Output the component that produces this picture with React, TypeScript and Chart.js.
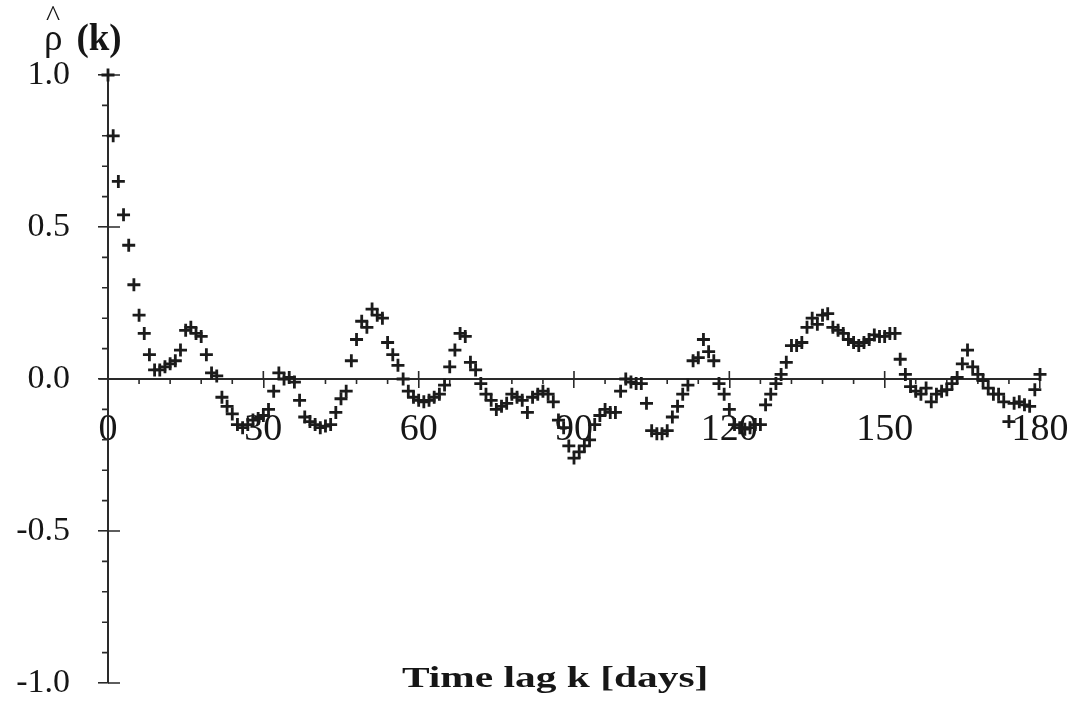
import React, { useEffect, useRef } from "react";
import { Chart, registerables } from "chart.js";

Chart.register(...registerables);

// Estimated autocorrelation values, one per lag k = 0..180
const rho: number[] = [
  1.0, 0.8, 0.65, 0.54, 0.44, 0.31, 0.21, 0.15, 0.08, 0.03,
  0.03, 0.04, 0.05, 0.06, 0.095, 0.16, 0.17, 0.15, 0.14, 0.08,
  0.02, 0.01, -0.06, -0.09, -0.115, -0.15, -0.16, -0.15, -0.135, -0.13,
  -0.12, -0.1, -0.04, 0.02, 0.0, 0.005, -0.01, -0.07, -0.125, -0.14,
  -0.15, -0.16, -0.155, -0.15, -0.11, -0.065, -0.04, 0.06, 0.13, 0.19,
  0.17, 0.23, 0.21, 0.2, 0.12, 0.08, 0.045, 0.0, -0.04, -0.06,
  -0.07, -0.075, -0.07, -0.06, -0.05, -0.02, 0.04, 0.095, 0.15, 0.14,
  0.055, 0.03, -0.015, -0.05, -0.07, -0.1, -0.09, -0.08, -0.05, -0.06,
  -0.07, -0.11, -0.06, -0.05, -0.04, -0.05, -0.075, -0.135, -0.16, -0.22,
  -0.26, -0.24, -0.22, -0.2, -0.15, -0.12, -0.1, -0.11, -0.11, -0.04,
  0.0, -0.01, -0.015, -0.015, -0.08, -0.17, -0.18, -0.18, -0.17, -0.125,
  -0.09, -0.05, -0.02, 0.06, 0.07, 0.13, 0.09, 0.06, -0.015, -0.05,
  -0.1, -0.15, -0.16, -0.165, -0.16, -0.15, -0.15, -0.085, -0.05, -0.015,
  0.015, 0.055, 0.11, 0.11, 0.12, 0.17, 0.2, 0.18, 0.21, 0.215,
  0.17, 0.16, 0.15, 0.13, 0.12, 0.11, 0.12, 0.13, 0.145, 0.14,
  0.14, 0.15, 0.15, 0.065, 0.015, -0.025, -0.04, -0.05, -0.03, -0.075,
  -0.05, -0.04, -0.035, -0.015, 0.005, 0.05, 0.095, 0.04, 0.015, -0.005,
  -0.03, -0.05, -0.05, -0.075, -0.14, -0.08, -0.075, -0.085, -0.09, -0.035,
  0.015,
];

const lags: number[] = rho.map((_, i) => i);

const xTickValues: number[] = [0, 30, 60, 90, 120, 150, 180];
const yTickValues: number[] = [-1.0, -0.5, 0.0, 0.5, 1.0];
const xMinorStep = 6;
const yMinorStep = 0.1;

const xTitle = "Time lag k [days]";
const yTitleSymbol = "ρ";
const yTitleArg = "(k)";

const AXIS_COLOR = "#2a2a2a";
const TEXT_COLOR = "#161616";

const zeroPadding = (s: any) => {
  s.paddingLeft = 0;
  s.paddingRight = 0;
  s.paddingTop = 0;
  s.paddingBottom = 0;
};

const extraTicks = {
  id: "extraTicks",
  beforeDatasetsDraw(chart: any) {
    const { ctx } = chart;
    const xs = chart.scales.x;
    const ys = chart.scales.y;
    const x0 = xs.getPixelForValue(0);
    const y0 = ys.getPixelForValue(0);
    ctx.save();
    ctx.strokeStyle = AXIS_COLOR;
    ctx.lineWidth = 1.6;
    ctx.beginPath();
    const nY = Math.round(2 / yMinorStep);
    for (let i = 0; i <= nY; i++) {
      const v = -1 + i * yMinorStep;
      const py = ys.getPixelForValue(v);
      const isMajor = yTickValues.some((t) => Math.abs(t - v) < 1e-6);
      if (isMajor) {
        ctx.moveTo(x0, py);
        ctx.lineTo(x0 + 12, py);
      } else {
        ctx.moveTo(x0 - 6, py);
        ctx.lineTo(x0, py);
      }
    }
    for (let k = 0; k <= 180; k += xMinorStep) {
      const px = xs.getPixelForValue(k);
      if (xTickValues.includes(k)) {
        if (k !== 0) {
          ctx.moveTo(px, y0 - 8);
          ctx.lineTo(px, y0);
        }
      } else {
        ctx.moveTo(px, y0);
        ctx.lineTo(px, y0 + 5);
      }
    }
    ctx.moveTo(x0 - 9, y0);
    ctx.lineTo(x0, y0);
    ctx.stroke();
    ctx.restore();
  },
};

export default function App() {
  const canvasRef = useRef<HTMLCanvasElement | null>(null);

  useEffect(() => {
    const canvas = canvasRef.current;
    if (!canvas) return;
    const chart = new Chart(canvas, {
      type: "scatter",
      data: {
        datasets: [
          {
            data: lags.map((k, i) => ({ x: k, y: rho[i] })),
            pointStyle: "cross",
            pointRadius: 6.5,
            pointBorderWidth: 2.8,
            borderColor: "#1b1b1b",
            backgroundColor: "#1b1b1b",
            showLine: false,
            clip: false,
          } as any,
        ],
      },
      options: {
        animation: false,
        responsive: false,
        maintainAspectRatio: false,
        layout: {
          autoPadding: false,
          padding: { top: 75, bottom: 20, left: 0, right: 30 },
        } as any,
        plugins: {
          legend: { display: false },
          tooltip: { enabled: false },
          title: { display: false },
        },
        scales: {
          x: {
            type: "linear",
            min: 0,
            max: 180,
            position: { y: 0 } as any,
            afterBuildTicks: (s: any) => {
              s.ticks = xTickValues.map((v) => ({ value: v }));
            },
            afterFit: zeroPadding,
            ticks: {
              callback: (v: any) => String(v),
              font: { family: "'Liberation Serif', serif", size: 38 },
              color: TEXT_COLOR,
              padding: 20,
              maxRotation: 0,
              autoSkip: false,
            },
            grid: {
              display: true,
              drawOnChartArea: false,
              drawTicks: true,
              tickLength: 8,
              color: AXIS_COLOR,
              lineWidth: 1.6,
            },
            border: { display: true, color: AXIS_COLOR, width: 2 },
          },
          y: {
            type: "linear",
            min: -1,
            max: 1,
            position: "left",
            afterBuildTicks: (s: any) => {
              s.ticks = yTickValues.map((v) => ({ value: v }));
            },
            afterFit: (s: any) => {
              s.width = 108;
              zeroPadding(s);
            },
            ticks: {
              callback: (v: any) => Number(v).toFixed(1),
              font: { family: "'Liberation Serif', serif", size: 34 },
              color: TEXT_COLOR,
              padding: 28,
              autoSkip: false,
            },
            grid: {
              display: true,
              drawOnChartArea: false,
              drawTicks: true,
              tickLength: 10,
              color: AXIS_COLOR,
              lineWidth: 1.6,
            },
            border: { display: true, color: AXIS_COLOR, width: 2 },
          },
        },
      },
      plugins: [extraTicks],
    });
    return () => chart.destroy();
  }, []);

  return (
    <div
      style={{
        position: "absolute",
        left: 0,
        top: 0,
        width: 1070,
        height: 703,
        background: "#ffffff",
        overflow: "hidden",
      }}
    >
      <canvas
        ref={canvasRef}
        width={1070}
        height={703}
        style={{ position: "absolute", left: 0, top: 0, width: 1070, height: 703 }}
      />
      <div
        style={{
          position: "absolute",
          left: 44,
          top: 18,
          fontFamily: "'Liberation Serif', serif",
          fontSize: 37,
          lineHeight: "40px",
          color: TEXT_COLOR,
          whiteSpace: "nowrap",
        }}
      >
        <span style={{ position: "relative", display: "inline-block" }}>
          {yTitleSymbol}
          <span
            style={{
              position: "absolute",
              left: 2,
              top: -22,
              fontSize: 30,
            }}
          >
            ^
          </span>
        </span>
        <span style={{ fontWeight: "bold", marginLeft: 14 }}>{yTitleArg}</span>
      </div>
      <div
        style={{
          position: "absolute",
          left: 402,
          top: 660,
          fontFamily: "'Liberation Serif', serif",
          fontWeight: "bold",
          fontSize: 30,
          lineHeight: "34px",
          color: TEXT_COLOR,
          whiteSpace: "nowrap",
          transform: "scaleX(1.38)",
          transformOrigin: "left top",
        }}
      >
        {xTitle}
      </div>
    </div>
  );
}
